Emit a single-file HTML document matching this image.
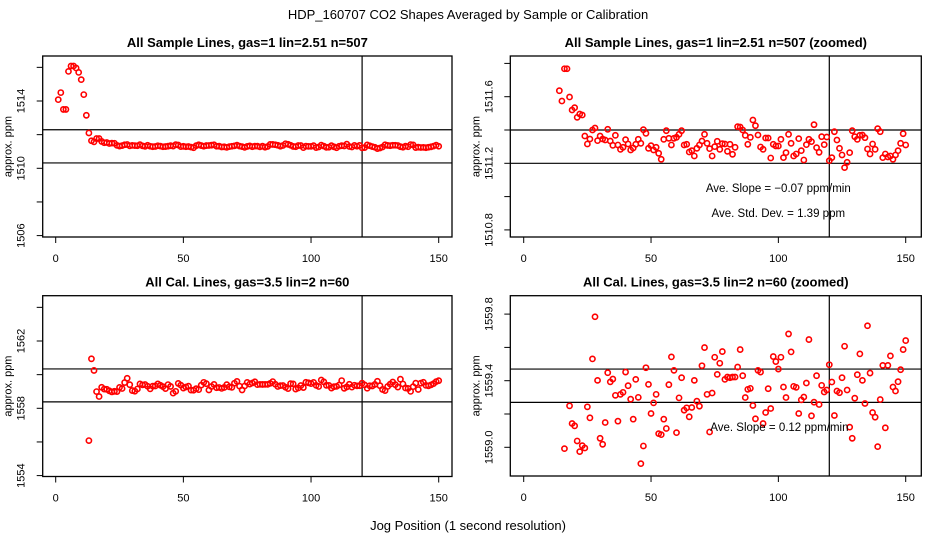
<!DOCTYPE html>
<html><head><meta charset="utf-8"><style>
html,body{margin:0;padding:0;background:#fff;width:936px;height:540px;overflow:hidden}
svg{display:block;font-family:"Liberation Sans",sans-serif;overflow:hidden}
</style></head><body>
<svg id="chart" width="936" height="540">
<text x="468" y="19" text-anchor="middle" font-size="13">HDP_160707  CO2 Shapes Averaged by Sample or Calibration</text>
<text x="468" y="530" text-anchor="middle" font-size="13">Jog Position (1 second resolution)</text>
</svg>
<script>
const sampleX = [1,2,3,4,5,6,7,8,9,10,11,12,13,14,15,16,17,18,19,20,21,22,23,24,25,26,27,28,29,30,31,32,33,34,35,36,37,38,39,40,41,42,43,44,45,46,47,48,49,50,51,52,53,54,55,56,57,58,59,60,61,62,63,64,65,66,67,68,69,70,71,72,73,74,75,76,77,78,79,80,81,82,83,84,85,86,87,88,89,90,91,92,93,94,95,96,97,98,99,100,101,102,103,104,105,106,107,108,109,110,111,112,113,114,115,116,117,118,119,120,121,122,123,124,125,126,127,128,129,130,131,132,133,134,135,136,137,138,139,140,141,142,143,144,145,146,147,148,149,150];
const sampleY = [1514.08,1514.5,1513.5,1513.5,1515.76,1516.08,1516.08,1515.96,1515.7,1515.27,1514.38,1513.15,1512.1,
1511.636,1511.574,1511.768,1511.768,1511.598,1511.52,1511.534,1511.476,1511.496,1511.49,1511.364,1511.316,1511.346,1511.40,1511.412,1511.336,1511.364,1511.346,1511.34,1511.404,1511.334,1511.308,1511.368,1511.31,1511.284,1511.296,1511.342,1511.316,1511.28,1511.292,1511.314,1511.344,1511.32,1511.402,1511.38,1511.29,1511.306,1511.28,1511.296,1511.26,1511.224,1511.344,1511.396,1511.35,1511.31,1511.35,1511.356,1511.374,1511.396,1511.31,1511.314,1511.268,1511.276,1511.244,1511.29,1511.31,1511.334,1511.374,1511.32,1511.288,1511.244,1511.30,1511.332,1511.284,1511.318,1511.316,1511.272,1511.314,1511.254,1511.296,1511.42,1511.418,1511.40,1511.368,1511.314,1511.356,1511.46,1511.426,1511.37,1511.298,1511.284,1511.352,1511.352,1511.232,1511.314,1511.304,1511.304,1511.344,1511.234,1511.264,1511.374,1511.32,1511.244,1511.256,1511.348,1511.276,1511.22,1511.312,1511.344,1511.33,1511.432,1511.294,1511.266,1511.36,1511.312,1511.358,1511.216,1511.234,1511.39,1511.34,1511.29,1511.25,1511.174,1511.206,1511.264,1511.396,1511.36,1511.344,1511.368,1511.37,1511.354,1511.286,1511.256,1511.316,1511.284,1511.408,1511.39,1511.234,1511.256,1511.238,1511.244,1511.224,1511.25,1511.276,1511.32,1511.378,1511.31];
const calX = [13,14,15,16,17,18,19,20,21,22,23,24,25,26,27,28,29,30,31,32,33,34,35,36,37,38,39,40,41,42,43,44,45,46,47,48,49,50,51,52,53,54,55,56,57,58,59,60,61,62,63,64,65,66,67,68,69,70,71,72,73,74,75,76,77,78,79,80,81,82,83,84,85,86,87,88,89,90,91,92,93,94,95,96,97,98,99,100,101,102,103,104,105,106,107,108,109,110,111,112,113,114,115,116,117,118,119,120,121,122,123,124,125,126,127,128,129,130,131,132,133,134,135,136,137,138,139,140,141,142,143,144,145,146,147,148,149,150];
const calY = [1556.08,1560.94,1560.25,1558.992,1558.7,1559.249,1559.143,1559.129,1559.038,1558.974,1559.01,1558.996,1559.243,1559.177,1559.531,1559.784,1559.402,1559.054,1559.018,1559.149,1559.448,1559.393,1559.41,1559.312,1559.157,1559.318,1559.33,1559.452,1559.37,1559.289,1559.169,1559.408,1559.3,1558.902,1559.008,1559.478,1559.378,1559.203,1559.267,1559.318,1559.082,1559.076,1559.169,1559.113,1559.376,1559.543,1559.462,1559.088,1559.297,1559.418,1559.223,1559.237,1559.183,1559.239,1559.402,1559.277,1559.247,1559.49,1559.599,1559.318,1559.092,1559.326,1559.541,1559.438,1559.505,1559.575,1559.408,1559.422,1559.418,1559.422,1559.422,1559.482,1559.587,1559.43,1559.299,1559.348,1559.354,1559.251,1559.171,1559.462,1559.452,1559.143,1559.209,1559.352,1559.233,1559.545,1559.515,1559.47,1559.541,1559.362,1559.299,1559.681,1559.573,1559.366,1559.36,1559.203,1559.285,1559.302,1559.386,1559.647,1559.189,1559.271,1559.43,1559.257,1559.372,1559.332,1559.344,1559.496,1559.392,1559.191,1559.338,1559.328,1559.418,1559.607,1559.344,1559.121,1559.054,1559.295,1559.436,1559.561,1559.402,1559.263,1559.73,1559.446,1559.209,1559.181,1559.004,1559.287,1559.492,1559.117,1559.492,1559.549,1559.362,1559.338,1559.394,1559.466,1559.587,1559.641];
const xTicks = [0,50,100,150];
const panelTitles = ["All Sample Lines, gas=1 lin=2.51 n=507","All Sample Lines, gas=1 lin=2.51 n=507 (zoomed)","All Cal. Lines, gas=3.5 lin=2 n=60","All Cal. Lines, gas=3.5 lin=2 n=60 (zoomed)"];
const yTicksTL = [1506,1508,1510,1512,1514,1516];
const yLabelsTL = ["1506","","1510","","1514",""];
const yTicksTR = [1510.8,1511.0,1511.2,1511.4,1511.6,1511.8];
const yLabelsTR = ["1510.8","","1511.2","","1511.6",""];
const yTicksBL = [1554,1556,1558,1560,1562,1564];
const yLabelsBL = ["1554","","1558","","1562",""];
const yTicksBR = [1559.0,1559.2,1559.4,1559.6,1559.8];
const yLabelsBR = ["1559.0","","1559.4","","1559.8"];
const hLinesTL = [1512.29,1510.32];
const hLinesTR = [1511.4,1511.2];
const hLinesBL = [1560.34,1558.38];
const hLinesBR = [1559.47,1559.27];
const vLine = 120;

const NS="http://www.w3.org/2000/svg";
const svg=document.getElementById('chart');
function mk(tag,attrs,parent){const e=document.createElementNS(NS,tag);for(const k in attrs)e.setAttribute(k,attrs[k]);(parent||svg).appendChild(e);return e;}

const panels=[
 {name:'sample-full',L:42.7,R:452,T:56,B:237,x0:55.7,x1:438.7,yA:1510,pA:168.3,yB:1514,pB:101,xs:sampleX,ys:sampleY,ticks:yTicksTL,labels:yLabelsTL,hl:hLinesTL,title:panelTitles[0]},
 {name:'sample-zoomed',L:510.3,R:921.3,T:56,B:237,x0:523.7,x1:905.7,yA:1511.2,pA:163.3,yB:1511.6,pB:96.7,xs:sampleX,ys:sampleY,ticks:yTicksTR,labels:yLabelsTR,hl:hLinesTR,title:panelTitles[1],notes:["Ave. Slope =  \u22120.07  ppm/min","Ave. Std. Dev. =  1.39  ppm"]},
 {name:'cal-full',L:42.7,R:452,T:295.7,B:476.5,x0:55.7,x1:438.7,yA:1558,pA:408.3,yB:1562,pB:341,xs:calX,ys:calY,ticks:yTicksBL,labels:yLabelsBL,hl:hLinesBL,title:panelTitles[2]},
 {name:'cal-zoomed',L:510.3,R:921.3,T:295.7,B:476,x0:523.7,x1:905.7,yA:1559.0,pA:447.3,yB:1559.4,pB:380.7,xs:calX,ys:calY,ticks:yTicksBR,labels:yLabelsBR,hl:hLinesBR,title:panelTitles[3],notes:["Ave. Slope =  0.12  ppm/min"]}
];
panels.forEach((p,i)=>{
 const g=mk('g',{});
 
 
 const sx=v=>p.x0+(v-0)*(p.x1-p.x0)/150;
 const sy=v=>p.pA+(v-p.yA)*(p.pB-p.pA)/(p.yB-p.yA);
 const cid='clip'+i;
 const cp=mk('clipPath',{id:cid},g);
 mk('rect',{x:p.L,y:p.T,width:p.R-p.L,height:p.B-p.T},cp);
 const t=mk('text',{x:(p.L+p.R)/2,y:p.T-9,'text-anchor':'middle','font-size':13,'font-weight':'bold'},g);
 t.textContent=p.title;
 
 
 const box=mk('rect',{x:p.L,y:p.T,width:p.R-p.L,height:p.B-p.T,fill:'none',stroke:'#000','stroke-width':1.3},g);
 
 
 xTicks.forEach(v=>{
  const X=sx(v);
  mk('line',{x1:X,x2:X,y1:p.B,y2:p.B+6,stroke:'#000'},g);
  const tl=mk('text',{x:X,y:p.B+25,'text-anchor':'middle','font-size':11},g);
  tl.textContent=v;
  
  
 });
 p.ticks.forEach((v,k)=>{
  const Y=sy(v);
  mk('line',{x1:p.L-6,x2:p.L,y1:Y,y2:Y,stroke:'#000'},g);
  if(p.labels[k]){
   const X=p.L-18;
   const yl=mk('text',{x:X,y:Y,'text-anchor':'middle','font-size':11,transform:`rotate(-90 ${X} ${Y})`},g);
   yl.textContent=p.labels[k];
   
   
  }
 });
 const yt=mk('text',{x:p.L-31,y:(p.T+p.B)/2,'text-anchor':'middle','font-size':11,transform:`rotate(-90 ${p.L-31} ${(p.T+p.B)/2})`},g);
 yt.textContent='approx. ppm';
 
 
 p.hl.forEach(v=>{
  const l=mk('line',{x1:p.L,x2:p.R,y1:sy(v),y2:sy(v),stroke:'#000','stroke-width':1.2},g);
  
  
 });
 const vl=mk('line',{x1:sx(vLine),x2:sx(vLine),y1:p.T,y2:p.B,stroke:'#000','stroke-width':1.2},g);
 
 
 const pts=mk('g',{'clip-path':`url(#${cid})`},g);
 p.xs.forEach((x,k)=>{
  const c=mk('circle',{cx:sx(x),cy:sy(p.ys[k]),r:2.6,fill:'none',stroke:'#f00','stroke-width':1.6},pts);
  
  
 });
 (p.notes||[]).forEach((n,k)=>{
  const nt=mk('text',{x:p.L+(i===1?268:200),y:(i===1?192+k*25:431),'text-anchor':i===1?'middle':'start','font-size':11.5},g);
  nt.textContent=n;
  
  
 });
});
</script>
</body></html>
